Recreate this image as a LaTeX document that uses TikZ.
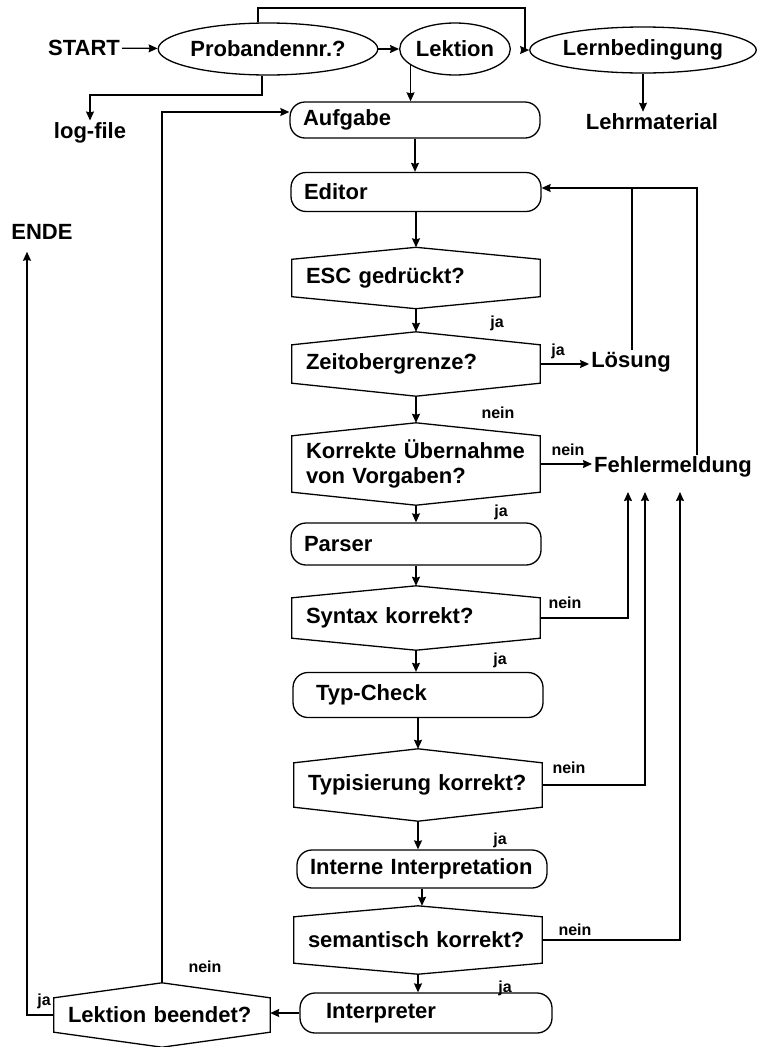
\documentclass[tikz,border=0pt]{standalone}
\usepackage{fontspec}
\setmainfont{Liberation Sans}
\usetikzlibrary{arrows.meta,positioning,calc,shapes.geometric}
\tikzset{
  txt/.style={font=\fontsize{22}{25}\selectfont\bfseries,inner sep=2pt},
  lbl/.style={font=\fontsize{16}{18}\selectfont\bfseries,inner sep=1pt},
  ell/.style={draw,ellipse,line width=1.3pt,txt,inner sep=0pt},
  rbox/.style={draw,rectangle,rounded corners=15pt,line width=1.3pt,txt,minimum width=250pt,minimum height=38pt,text width=224pt,inner xsep=13pt,align=left},
  qbox/.style={rectangle,txt,minimum width=248pt,minimum height=36pt,text width=220pt,inner xsep=14pt,align=left},
  qline/.style={line width=1.3pt,line join=miter},
  arr/.style={-{Stealth[length=9pt,width=8pt,inset=1pt]},line width=1.3pt},
  ln/.style={line width=1.3pt}
}
% question node: box with a shallow peak on top and bottom
\newcommand{\hexq}[5][]{%
  \node[qbox,#1] (#2) at (#3) {#5};
  \draw[qline] (#2.north west) -- ([yshift=#4pt]#2.north) coordinate (#2-t) -- (#2.north east)
    -- (#2.south east) -- ([yshift=-#4pt]#2.south) coordinate (#2-b) -- (#2.south west) -- cycle;
}

\begin{document}
\begin{tikzpicture}[x=1pt,y=-1pt]
  \useasboundingbox (0,0) rectangle (758,1047);
  % Start row
  \node[txt] (start) at (84,48) {START};
  \node[ell,minimum width=195pt,minimum height=52pt] (prob) at (268,49) {Probandennr.?};
  \node[ell,minimum width=104pt,minimum height=52pt] (lekt) at (455,49) {Lektion};
  \node[ell,minimum width=213pt,minimum height=46pt] (lern) at (643,50) {Lernbedingung};
  \node[txt] (lehr) at (652,122) {Lehrmaterial};
  \node[txt] (logf) at (90,133) {log-file};
  \node[txt] (ende) at (42,232) {ENDE};

  \coordinate (tl) at (258,8);
  \coordinate (tr) at (525,8);
  \coordinate (pb) at (262,95);
  \draw[arr] (start) -- (prob);
  \draw[arr] (prob) -- (lekt);
  \draw[arr] (prob.north -| tl) -- (tl) -- (tr) |- (lern.west);
  \draw[arr] (prob.south -| pb) -- (pb) -| (logf.north);
  \draw[arr] (lern.south) -- (lern.south |- lehr.north);

  % Main column
  \node[rbox,minimum height=36pt] (aufg) at (415,120) {Aufgabe};
  \node[rbox,minimum height=39pt] (edit) at (416,192) {Editor};
  \hexq[minimum height=37pt]{esc}{416,278}{12}{ESC gedrückt?}
  \hexq[minimum height=38pt]{zeit}{416,364}{13}{Zeitobergrenze?}
  \hexq[minimum height=56pt]{korr}{416,464}{13}{Korrekte Übernahme\\von Vorgaben?}
  \node[rbox,minimum height=42pt] (pars) at (416,544) {Parser};
  \hexq[minimum height=40pt]{syn}{416,618}{12}{Syntax korrekt?}
  \node[rbox,minimum height=45pt] (tyc) at (418,695) {\hspace{10pt}Typ-Check};
  \hexq[minimum height=44pt]{typ}{418,785}{14}{Typisierung korrekt?}
  \node[rbox,minimum height=38pt] (intn) at (422,869) {Interne Interpretation};
  \hexq[minimum height=46pt]{sem}{418,940}{11}{semantisch korrekt?}
  \node[rbox,minimum height=40pt,minimum width=252pt] (intp) at (426,1013) {\hspace{12pt}Interpreter};
  \hexq[minimum width=216pt,text width=188pt,minimum height=34pt]{lbe}{162,1015}{15}{Lektion beendet?}

  \draw[arr] (lekt.200) -- (lekt.200 |- aufg.north);
  \foreach \a/\b in {aufg.south/edit.north, edit.south/esc-t, esc-b/zeit-t, zeit-b/korr-t,
      korr-b/pars.north, pars.south/syn-t, syn-b/tyc.north, tyc.south/typ-t,
      typ-b/intn.north, intn.south/sem-t, sem-b/intp.north}
    \draw[arr] (\a) -- (\a |- \b);

  % Labels at the branches
  \node[lbl] (ja1) at (497,323) {ja};
  \node[lbl] (ja2) at (558,351) {ja};
  \node[lbl] (nein1) at (498,413) {nein};
  \node[lbl] (nein2) at (568,450) {nein};
  \node[lbl] (ja3) at (501,512) {ja};
  \node[lbl] (nein3) at (565,603) {nein};
  \node[lbl] (ja4) at (500,660) {ja};
  \node[lbl] (nein4) at (569,768) {nein};
  \node[lbl] (ja5) at (500,840) {ja};
  \node[lbl] (nein5) at (575,930) {nein};
  \node[lbl] (ja6) at (505,988) {ja};
  \node[lbl] (nein6) at (205,967) {nein};
  \node[lbl] (ja7) at (44,1001) {ja};

  % Side branches
  \node[txt] (loes) at (631,362) {Lösung};
  \node[txt] (fehl) at (673,467) {Fehlermeldung};
  \coordinate (fr) at (697,188);
  \coordinate (lr) at (632,188);
  \coordinate (fb) at (0,492);
  \coordinate (c1) at (628,0);
  \coordinate (c2) at (645,0);
  \coordinate (c3) at (680,0);
  \draw[arr] (zeit.east) -- (zeit.east -| loes.west);
  \draw[arr] (korr.east) -- (korr.east -| fehl.west);
  \draw[arr] (fehl.north -| fr) -- (fr) -- (fr -| edit.east);
  \draw[ln] (loes.north -| lr) -- (lr);
  \draw[arr] (syn.east) -| (c1 |- fb);
  \draw[arr] (typ.east) -| (c2 |- fb);
  \draw[arr] (sem.east) -| (c3 |- fb);

  % End of lesson
  \draw[arr] (intp.west) -- (intp.west -| lbe.east);
  \draw[arr] (lbe-t) |- ([yshift=8pt]aufg.west);
  \draw[arr] (lbe.west) -| ([xshift=-15pt,yshift=-10pt]ende.south);
\end{tikzpicture}
\end{document}
